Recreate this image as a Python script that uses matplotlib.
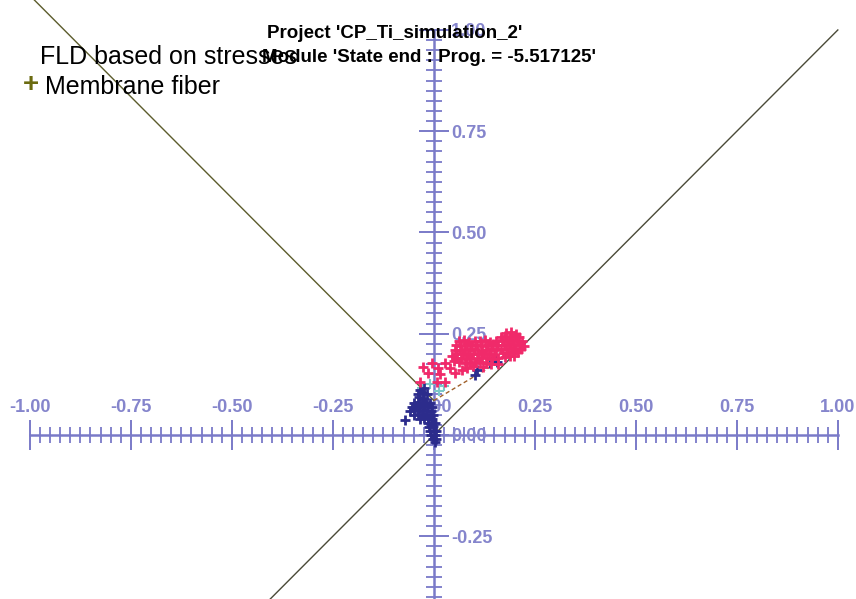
import matplotlib
matplotlib.use('Agg')
import matplotlib.pyplot as plt
from matplotlib.ticker import FixedLocator

plt.rcParams['font.family'] = ['Liberation Sans', 'DejaVu Sans']

# ---- axis ticks ----
x_major = [-1.0, -0.75, -0.5, -0.25, 0.0, 0.25, 0.5, 0.75, 1.0]
x_labels = ['-1.00', '-0.75', '-0.50', '-0.25', '0.00', '0.25', '0.50', '0.75', '1.00']
y_major = [-0.25, 0.0, 0.25, 0.5, 0.75, 1.0]
y_labels = ['-0.25', '0.00', '0.25', '0.50', '0.75', '1.00']
x_minor = [round(-1.0 + 0.025 * i, 3) for i in range(81)]
y_minor = [round(-0.4 + 0.025 * i, 3) for i in range(57)]

# ---- reference lines ----
diag_x = [-0.45, 1.0]
diag_y = [-0.45, 1.0]
fld_left_x = [-1.0, 0.0]
fld_left_y = [1.085, 0.085]
fld_right_x = [0.0, 0.16]
fld_right_y = [0.085, 0.18]

# ---- pink points (membrane fiber, upper) ----
pink_x = [0.062, 0.075, 0.088, 0.101, 0.113, 0.127, 0.140,
          0.055, 0.068, 0.081, 0.094, 0.107, 0.120, 0.133, 0.146,
          0.052, 0.064, 0.077, 0.090, 0.103, 0.116, 0.129, 0.142, 0.155,
          0.058, 0.071, 0.084, 0.097, 0.110, 0.123, 0.136, 0.149,
          0.054, 0.067, 0.080, 0.093, 0.106, 0.119, 0.132, 0.145, 0.160,
          0.063, 0.076, 0.089, 0.102, 0.115, 0.128, 0.141,
          0.178, 0.191, 0.204,
          0.165, 0.176, 0.188, 0.200, 0.212,
          0.155, 0.168, 0.181, 0.194, 0.207, 0.218,
          0.160, 0.173, 0.186, 0.199, 0.212, 0.224,
          0.165, 0.178, 0.191, 0.204, 0.216,
          0.171, 0.184, 0.197, 0.208,
          0.176, 0.189, 0.198,
          0.046, 0.050, 0.158, 0.098, 0.121,
          -0.027, -0.005, 0.010, 0.027, 0.052, -0.015, 0.007, 0.027, 0.069,
          -0.035, 0.040, 0.015, 0.082]
pink_y = [0.232, 0.234, 0.230, 0.233, 0.231, 0.235, 0.229,
          0.222, 0.220, 0.224, 0.221, 0.223, 0.219, 0.222, 0.224,
          0.211, 0.209, 0.213, 0.210, 0.212, 0.208, 0.211, 0.213, 0.210,
          0.200, 0.202, 0.198, 0.201, 0.199, 0.203, 0.200, 0.198,
          0.189, 0.191, 0.187, 0.190, 0.188, 0.192, 0.189, 0.187, 0.191,
          0.179, 0.177, 0.180, 0.178, 0.181, 0.178, 0.176,
          0.252, 0.254, 0.250,
          0.243, 0.245, 0.242, 0.244, 0.241,
          0.233, 0.235, 0.232, 0.234, 0.231, 0.233,
          0.223, 0.222, 0.225, 0.221, 0.224, 0.220,
          0.213, 0.212, 0.214, 0.211, 0.213,
          0.203, 0.202, 0.204, 0.205,
          0.193, 0.194, 0.196,
          0.196, 0.183, 0.176, 0.170, 0.168,
          0.168, 0.178, 0.165, 0.178, 0.153, 0.153, 0.131, 0.131, 0.160,
          0.131, 0.165, 0.150, 0.165]

# ---- cyan points ----
cyan_x = [-0.030, -0.010, 0.012, 0.025]
cyan_y = [0.115, 0.125, 0.108, 0.120]

# ---- blue points (membrane fiber, lower) ----
blue_x = [-0.035, -0.025, -0.040, -0.028, -0.018, -0.036, -0.024,
          -0.050, -0.040, -0.030, -0.020, -0.010,
          -0.055, -0.045, -0.035, -0.025, -0.015, -0.005,
          -0.058, -0.048, -0.038, -0.028, -0.018, -0.008,
          -0.050, -0.040, -0.030, -0.020, -0.010, -0.002,
          -0.035, -0.025, -0.015, -0.005,
          -0.015, -0.005, 0.003,
          -0.012, -0.002,
          -0.010, 0.000, 0.005,
          -0.006, 0.004,
          -0.002, 0.006,
          0.002,
          -0.072, 0.101, 0.106, 0.139, 0.151, 0.156]
blue_y = [0.112, 0.115, 0.102, 0.104, 0.100, 0.093, 0.090,
          0.080, 0.082, 0.079, 0.081, 0.078,
          0.070, 0.072, 0.069, 0.071, 0.068, 0.070,
          0.060, 0.062, 0.059, 0.061, 0.058, 0.060,
          0.050, 0.052, 0.049, 0.051, 0.048, 0.050,
          0.040, 0.041, 0.039, 0.040,
          0.030, 0.031, 0.029,
          0.020, 0.021,
          0.010, 0.011, 0.009,
          0.000, 0.001,
          -0.010, -0.009,
          -0.018,
          0.037, 0.148, 0.160, 0.178, 0.190, 0.180]

axis_color = '#7a7ac8'
label_color = '#8585cc'
pink = '#f02a6a'
blue = '#2c2c8c'

fig = plt.figure(figsize=(8.56, 5.99), dpi=100)
ax = fig.add_axes([0, 0, 1, 1])
ax.set_xlim(-1.074, 1.045)
ax.set_ylim(-0.405, 1.074)

for s in ['left', 'bottom']:
    ax.spines[s].set_visible(False)
ax.spines['top'].set_position(('data', 0))
ax.spines['right'].set_position(('data', 0))
ax.spines['top'].set_bounds(-1.0, 1.0)
ax.spines['right'].set_bounds(-0.41, 1.0)
for s in ['top', 'right']:
    ax.spines[s].set_color(axis_color)
    ax.spines[s].set_linewidth(1.8)
    ax.spines[s].set_zorder(1)
ax.xaxis.set_ticks_position('top')
ax.yaxis.set_ticks_position('right')

ax.set_xticks(x_major, labels=x_labels, fontsize=13, fontweight='bold', color=label_color)
ax.set_yticks(y_major, labels=y_labels, fontsize=13, fontweight='bold', color=label_color)
ax.xaxis.set_minor_locator(FixedLocator(x_minor))
ax.yaxis.set_minor_locator(FixedLocator(y_minor))
ax.tick_params(which='major', direction='inout', length=22, width=1.4, color=axis_color)
ax.tick_params(axis='x', which='major', pad=2.5)
ax.tick_params(axis='y', which='major', pad=1.5)
ax.tick_params(which='minor', direction='inout', length=12, width=1.3, color=axis_color)

# reference lines
ax.plot(diag_x, diag_y, color='#4a4a38', lw=1.0, zorder=3)
ax.plot(fld_left_x, fld_left_y, color='#5c5c2c', lw=1.0, zorder=3)
ax.plot(fld_right_x, fld_right_y, color='#a0602a', lw=1.0, ls=(0, (3, 2)), zorder=3)

# points
ax.scatter(cyan_x, cyan_y, marker='+', s=50, linewidths=1.5, color='#7cc8c8', zorder=4)
ax.scatter(blue_x, blue_y, marker='+', s=55, linewidths=2.0, color=blue, zorder=4)
ax.scatter(pink_x, pink_y, marker='+', s=55, linewidths=2.0, color=pink, zorder=5)

# texts
fig.text(395 / 856, 1 - 33 / 599, "Project 'CP_Ti_simulation_2'", ha='center', va='center',
         fontsize=13.5, fontweight='bold', color='black', zorder=10)
fig.text(262 / 856, 1 - 57 / 599, "Module 'State end : Prog. = -5.517125'", ha='left', va='center',
         fontsize=13.5, fontweight='bold', color='black', zorder=10)
fig.text(40 / 856, 1 - 57 / 599, "FLD based on stresses", ha='left', va='center',
         fontsize=18, color='black')
fig.text(45 / 856, 1 - 87 / 599, "Membrane fiber", ha='left', va='center',
         fontsize=18, color='black')
fig.text(31 / 856, 1 - 85 / 599, "+", ha='center', va='center',
         fontsize=20, fontweight='bold', color='#6b6b10')

fig.savefig('out.png', dpi=100, facecolor='white')
